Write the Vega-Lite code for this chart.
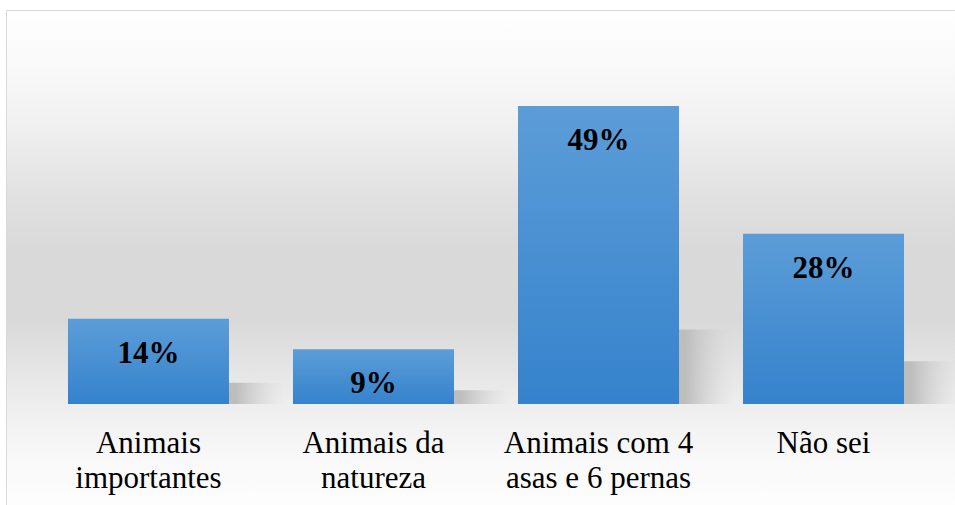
{
  "$schema": "https://vega.github.io/schema/vega-lite/v6.json",
  "width": 958,
  "height": 500,
  "autosize": "none",
  "padding": {"left": 7, "top": 11, "right": 0, "bottom": 0},
  "background": "white",
  "config": {"view": {"stroke": "#d9d9d9", "strokeWidth": 2}},
  "data": {"values": [
    {"categoria": "Animais importantes", "percentual": 0.14},
    {"categoria": "Animais da natureza", "percentual": 0.09},
    {"categoria": "Animais com 4 asas e 6 pernas", "percentual": 0.49},
    {"categoria": "Não sei", "percentual": 0.28}
  ]},
  "encoding": {
    "x": {
      "field": "categoria", "type": "nominal", "sort": null,
      "scale": {"paddingInner": 0.2844, "paddingOuter": 0.271},
      "axis": {
        "orient": "bottom",
        "offset": -107,
        "zindex": 1,
        "domain": false,
        "ticks": false,
        "grid": false,
        "title": null,
        "labelAngle": 0,
        "labelAlign": "center",
        "labelFont": "'Liberation Serif', 'Times New Roman', 'DejaVu Serif', serif",
        "labelFontSize": 31,
        "labelColor": "#000000",
        "labelBaseline": "alphabetic",
        "labelPadding": 48,
        "labelLineHeight": 35,
        "labelLimit": 400,
        "labelExpr": "datum.value == 'Animais importantes' ? ['Animais', 'importantes'] : datum.value == 'Animais da natureza' ? ['Animais da', 'natureza'] : datum.value == 'Animais com 4 asas e 6 pernas' ? ['Animais com 4', 'asas e 6 pernas'] : datum.value"
      }
    }
  },
  "layer": [
    {
      "data": {"values": [{}]},
      "mark": {
        "type": "rect",
        "fill": {
          "gradient": "linear", "x1": 0, "y1": 0, "x2": 0, "y2": 1,
          "stops": [
            {"offset": 0, "color": "#ffffff"},
            {"offset": 0.16, "color": "#f6f6f6"},
            {"offset": 0.24, "color": "#efefef"},
            {"offset": 0.38, "color": "#e0e0e0"},
            {"offset": 0.48, "color": "#d9d9d9"},
            {"offset": 0.62, "color": "#d9d9d9"},
            {"offset": 0.79, "color": "#eeeeee"},
            {"offset": 0.9, "color": "#f9f9f9"},
            {"offset": 1, "color": "#fefefe"}
          ]
        }
      },
      "encoding": {"x": null}
    },
    {
      "mark": {
        "type": "bar",
        "xOffset": 55,
        "fill": {
          "gradient": "linear", "x1": 0, "y1": 0, "x2": 1, "y2": 0,
          "stops": [
            {"offset": 0, "color": "#bababa"},
            {"offset": 0.7, "color": "#bdbdbd"},
            {"offset": 1, "color": "rgba(215,215,215,0)"}
          ]
        }
      },
      "encoding": {
        "y": {"field": "percentual", "type": "quantitative", "scale": {"domain": [-0.704, 2.584], "zero": false, "nice": false}, "axis": null}
      }
    },
    {
      "mark": {
        "type": "bar",
        "fill": {
          "gradient": "linear", "x1": 0, "y1": 0, "x2": 0, "y2": 1,
          "stops": [
            {"offset": 0, "color": "#5c9dd8"},
            {"offset": 1, "color": "#3582cc"}
          ]
        }
      },
      "encoding": {
        "y": {"field": "percentual", "type": "quantitative", "scale": {"domain": [-0.176, 0.646], "zero": false, "nice": false}, "axis": null}
      }
    },
    {
      "mark": {
        "type": "text",
        "font": "'Liberation Serif', 'Times New Roman', 'DejaVu Serif', serif",
        "fontSize": 31,
        "fontWeight": "bold",
        "color": "#000000",
        "align": "center",
        "baseline": "alphabetic",
        "dy": 44
      },
      "encoding": {
        "y": {"field": "percentual", "type": "quantitative", "scale": {"domain": [-0.176, 0.646], "zero": false, "nice": false}, "axis": null},
        "text": {"field": "percentual", "type": "quantitative", "format": ".0%"}
      }
    }
  ],
  "resolve": {"scale": {"y": "independent"}}
}
